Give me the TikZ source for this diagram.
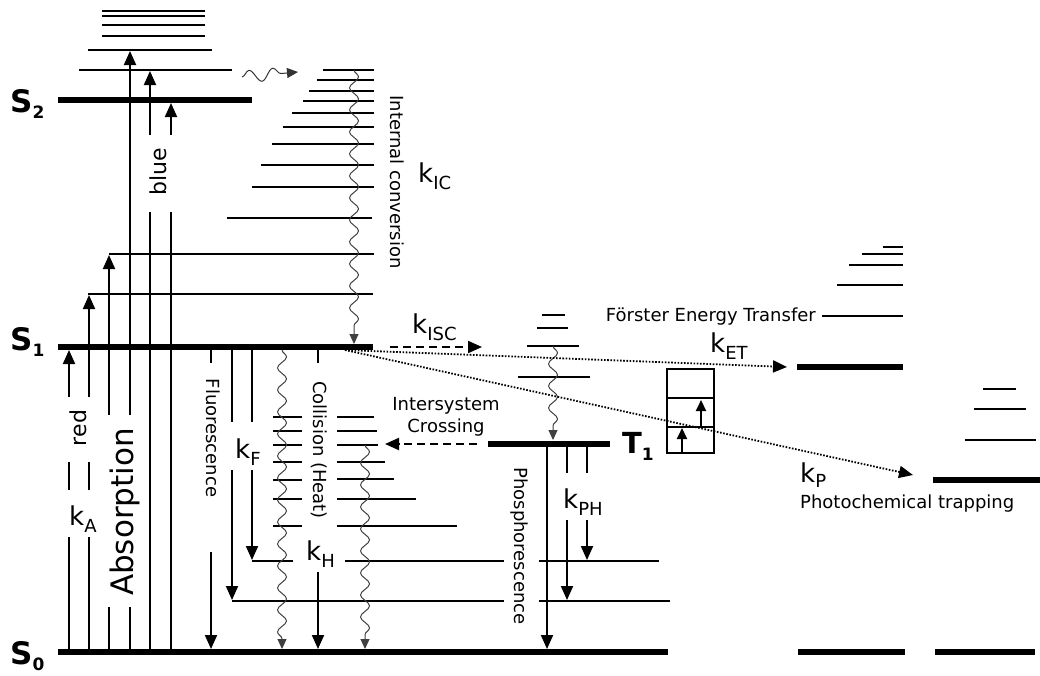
\documentclass[tikz,border=0pt]{standalone}
\usepackage{fontspec}
\setmainfont{DejaVu Sans}
\usetikzlibrary{arrows.meta,decorations.pathmorphing}
\newcommand{\klab}[1]{{\fontsize{26}{26}\selectfont k}\raisebox{-7pt}{\fontsize{18}{18}\selectfont #1}}
\newcommand{\slab}[2]{{\bfseries\fontsize{31}{31}\selectfont #1}\raisebox{-6pt}{\bfseries\fontsize{17}{17}\selectfont #2}}
\begin{document}
\begin{tikzpicture}[x=1pt,y=-1pt,
  lvl/.style={line width=2pt},
  thk/.style={line width=5.5pt},
  ar/.style={line width=2pt,-{Triangle[width=12pt,length=14pt]}},
  sar/.style={line width=2pt,-{Triangle[width=10pt,length=11pt]}},
  wav/.style={line width=1pt,black!75,decorate,decoration={snake,amplitude=4.5pt,segment length=22pt,post length=9pt},-{Triangle[width=9pt,length=10pt]}},
  dsh/.style={line width=2pt,dash pattern=on 8pt off 5pt,-{Triangle[width=12pt,length=14pt]}},
  dotl/.style={line width=1.8pt,dash pattern=on 1.6pt off 1.6pt,-{Triangle[width=12pt,length=14pt]}},
  lab/.style={font=\fontsize{18}{22}\selectfont,inner sep=0pt},
  big/.style={inner sep=0pt}]
\useasboundingbox (0,0) rectangle (1040,675);

% ---------- main levels ----------
\draw[thk] (58,652) -- (668,652);
\draw[thk] (58,347) -- (373,347);
\draw[thk] (58,100) -- (252,100);
\draw[thk] (488,444) -- (610,444);
\draw[thk] (797,367) -- (903,367);
\draw[thk] (933,480) -- (1040,480);
\draw[thk] (798,652) -- (905,652);
\draw[thk] (935,652) -- (1035,652);

% ---------- S2 vibrational stack ----------
\foreach \y in {11,16,25,36} \draw[lvl] (102,\y) -- (205,\y);
\draw[lvl] (88,50) -- (212,50);
\draw[lvl] (79,70) -- (232,70);

% ---------- S1 vibrational stack (IC) ----------
\foreach \a/\y/\b in {323/70/374,317/80/374,309/91/374,303/101/374,292/113/374,283/127/374,272/144/374,261/165/374,252/187/374,227/218/372,109/254/374,88/294/373}
  \draw[lvl] (\a,\y) -- (\b,\y);

% ---------- S0 vibrational levels ----------
\foreach \y in {417,431,445,462,480,499,526} \draw[lvl] (273,\y) -- (302,\y);
\foreach \y/\b in {417/374,431/377,445/378,462/385,479/394,499/416,526/457} \draw[lvl] (337,\y) -- (\b,\y);
\draw[lvl] (252,561) -- (293,561);
\draw[lvl] (345,561) -- (504,561);
\draw[lvl] (539,561) -- (659,561);
\draw[lvl] (232,601) -- (504,601);
\draw[lvl] (539,601) -- (670,601);

% ---------- T1 stack ----------
\foreach \a/\y/\b in {542/315/565,537/328/568,527/346/579,518/377/590} \draw[lvl] (\a,\y) -- (\b,\y);

% ---------- acceptor stacks ----------
\foreach \a/\y in {883/247,862/254,849/265,837/285,822/316} \draw[lvl] (\a,\y) -- (903,\y);
\foreach \a/\y/\b in {983/389/1016,974/409/1026,965/440/1036} \draw[lvl] (\a,\y) -- (\b,\y);

% ---------- absorption ----------
\foreach \x in {69,89} {
  \draw[lvl] (\x,652) -- (\x,537);
  \draw[lvl] (\x,490) -- (\x,462);
}
\draw[ar] (69,397) -- (69,350);
\draw[ar] (89,397) -- (89,295);
\foreach \x in {109,130} \draw[lvl] (\x,652) -- (\x,607);
\draw[ar] (109,415) -- (109,255);
\draw[ar] (130,415) -- (130,51);
\foreach \x in {150,171} \draw[lvl] (\x,652) -- (\x,212);
\draw[ar] (150,135) -- (150,71);
\draw[ar] (171,135) -- (171,103);

% ---------- fluorescence ----------
\draw[lvl] (211,347) -- (211,363);
\draw[ar] (211,552) -- (211,649);
\draw[lvl] (232,347) -- (232,422);
\draw[ar] (232,470) -- (232,600);
\draw[lvl] (252,347) -- (252,422);
\draw[ar] (252,470) -- (252,560);

% ---------- collision ----------
\draw[lvl] (318,347) -- (318,363);
\draw[ar] (318,572) -- (318,649);

% ---------- phosphorescence ----------
\draw[ar] (547,444) -- (547,649);
\draw[lvl] (567,444) -- (567,473);
\draw[lvl] (587,444) -- (587,473);
\draw[ar] (567,520) -- (567,600);
\draw[ar] (587,520) -- (587,560);

% ---------- wavy ----------
\draw[wav] (354,70) -- (354,344);
\draw[wav] (282,350) -- (282,649);
\draw[wav] (365,445) -- (365,649);
\draw[wav] (553,346) -- (553,440);
\draw[line width=1pt,black!80,decorate,decoration={snake,amplitude=6pt,segment length=24pt,post length=7pt},-{Triangle[width=10pt,length=11pt]}] (242,77) -- (298,72);

% ---------- dashed ISC ----------
\draw[dsh] (390,347) -- (482,347);
\draw[dsh] (477,444) -- (385,444);

% ---------- dotted transfer ----------
\draw[dotl] (345,350) -- (787,367);
\draw[dotl] (345,350) -- (913,475);

% ---------- box ----------
\draw[lvl] (667,369) rectangle (714,453);
\draw[lvl] (667,398) -- (714,398);
\draw[lvl] (667,427) -- (714,427);
\draw[sar] (682,453) -- (682,428);
\draw[sar] (701,427) -- (701,400);

% ---------- labels ----------
\node[big,anchor=base west] (s2) at (10,112) {\slab{S}{2}};
\node[big,anchor=base west] (s1) at (10,350) {\slab{S}{1}};
\node[big,anchor=base west] (s0) at (10,664) {\slab{S}{0}};
\node[big,anchor=base west] (t1) at (622,453) {{\bfseries\fontsize{29}{29}\selectfont T}\raisebox{-7pt}{\bfseries\fontsize{17}{17}\selectfont 1}};

\node[big,anchor=base west] (kic) at (418,182) {\klab{IC}};
\node[big,anchor=base west] (kisc) at (412,333) {\klab{ISC}};
\node[big,anchor=base west] (kf) at (235,458) {\klab{F}};
\node[big,anchor=base west] (kh) at (306,560) {\klab{H}};
\node[big,anchor=base west] (ka) at (69,525) {\klab{A}};
\node[big,anchor=base west] (kph) at (563,508) {\klab{PH}};
\node[big,anchor=base west] (ket) at (710,352) {\klab{ET}};
\node[big,anchor=base west] (kp) at (800,482) {{\fontsize{26}{26}\selectfont k}\raisebox{-5pt}{\fontsize{18}{18}\selectfont P}};

\node[lab,rotate=-90] (ic) at (397,182) {Internal conversion};
\node[lab,rotate=-90] (fl) at (213,438) {Fluorescence};
\node[lab,rotate=-90] (col) at (319,450) {Collision (Heat)};
\node[lab,rotate=-90] (ph) at (519,546) {Phosphorescence};
\node[big,rotate=90,font=\fontsize{22}{22}\selectfont] (red) at (78,428) {red};
\node[big,rotate=90,font=\fontsize{22}{22}\selectfont] (blue) at (158,172) {blue};
\node[big,rotate=90,font=\fontsize{31}{31}\selectfont] (abs) at (125,512) {Absorption};
\node[lab,align=center] (isc) at (446,417) {Intersystem\\Crossing};
\node[lab,anchor=base east] (fet) at (816,321) {Förster Energy Transfer};
\node[lab,anchor=base west] (pt) at (800,508) {Photochemical trapping};
\end{tikzpicture}
\end{document}
